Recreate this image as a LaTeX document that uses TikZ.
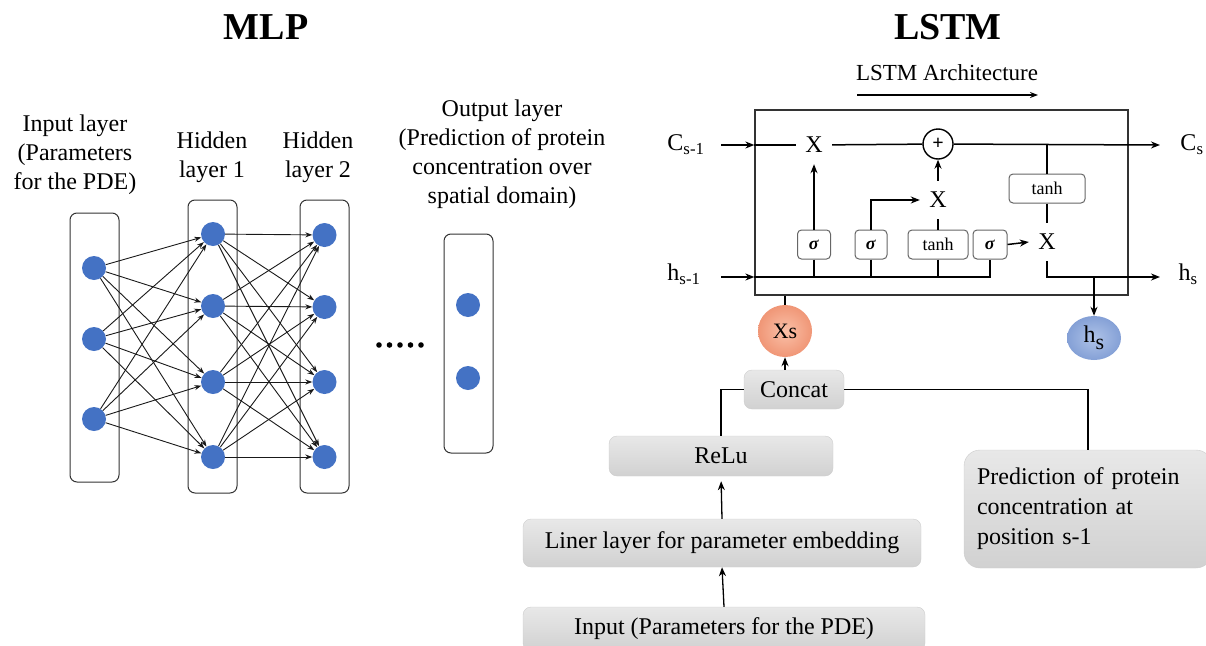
\documentclass[tikz,border=0pt]{standalone}
\usepackage{fontspec}
\setmainfont{Liberation Serif}
\usetikzlibrary{arrows.meta,shapes.geometric}
\definecolor{nblue}{RGB}{68,114,196}
\definecolor{xsin}{RGB}{250,192,168}
\definecolor{xsout}{RGB}{240,150,118}
\definecolor{hsin}{RGB}{175,195,232}
\definecolor{hsout}{RGB}{132,160,214}
\begin{document}
\begin{tikzpicture}[x=1pt,y=-1pt,
  neuron/.style={circle, fill=nblue, minimum size=24pt, inner sep=0pt},
  layerbox/.style={draw=black!80, rounded corners=7pt, line width=1pt, minimum width=49pt, inner sep=0pt},
  conn/.style={-{Stealth[length=7pt,width=5pt]}, line width=0.9pt, draw=black!90},
  txt/.style={font=\fontsize{24}{29}\selectfont, align=center, inner sep=0pt},
  title/.style={font=\fontsize{38}{40}\selectfont\bfseries, inner sep=0pt},
  gate/.style={draw=black!60, rounded corners=4pt, fill=white, font=\fontsize{18}{20}\selectfont, minimum height=29pt, inner sep=0pt, line width=1pt},
  xop/.style={font=\fontsize{24}{24}\selectfont, minimum width=36pt, minimum height=38pt, inner sep=0pt},
  lstm/.style={line width=1.5pt},
  arr/.style={-{Stealth[length=9pt,width=7pt]}, line width=1.5pt},
  graybox/.style={rounded corners=8pt, top color=gray!18, bottom color=gray!36, draw=gray!40, font=\fontsize{24}{30}\selectfont, inner sep=0pt}
]
\useasboundingbox (0,0) rectangle (1206,645);

% ---------------- titles ----------------
\node[title] (tmlp) at (266,27) {MLP};
\node[title] (tlstm) at (948,27) {LSTM};

% ---------------- MLP ----------------
\node[txt] (lin) at (75,155) {Input layer\\(Parameters\\for the PDE)};
\node[txt] (lh1) at (212,157) {Hidden\\layer 1};
\node[txt] (lh2) at (318,157) {Hidden\\layer 2};
\node[txt] (lout) at (502,154) {Output layer\\(Prediction of protein\\concentration over\\spatial domain)};

\node[layerbox, minimum height=269pt] (bin) at (94.5,347.5) {};
\node[layerbox, minimum height=293pt] (bh1) at (212.5,346.5) {};
\node[layerbox, minimum height=293pt] (bh2) at (324.5,346.5) {};
\node[layerbox, minimum height=219pt] (bout) at (468.5,343.5) {};

\node[neuron] (i1) at (94,268) {};
\node[neuron] (i2) at (94,339) {};
\node[neuron] (i3) at (94,419) {};
\node[neuron] (a1) at (213,234) {};
\node[neuron] (a2) at (213,306) {};
\node[neuron] (a3) at (213,382) {};
\node[neuron] (a4) at (213,457) {};
\node[neuron] (b1) at (324.5,235) {};
\node[neuron] (b2) at (324.5,307) {};
\node[neuron] (b3) at (324.5,382) {};
\node[neuron] (b4) at (324.5,457) {};
\node[neuron] (o1) at (468,305) {};
\node[neuron] (o2) at (468,378) {};

\foreach \s in {i1,i2,i3} \foreach \t in {a1,a2,a3,a4} \draw[conn] (\s) -- (\t);
\foreach \s in {a1,a2,a3,a4} \foreach \t in {b1,b2,b3,b4} \draw[conn] (\s) -- (\t);

\foreach \i in {0,...,4} \fill (379+\i*10.5,345) circle (2.8);

% ---------------- LSTM cell ----------------
\node[font=\fontsize{23}{24}\selectfont, inner sep=0pt] (arch) at (947,73) {LSTM Architecture};
\coordinate (ar1) at (857,95);
\coordinate (ar2) at (1038,95);
\draw[-{Stealth[length=8pt,width=6pt]}, line width=1.3pt] (ar1) -- (ar2);

\node[draw=black!80, line width=1.3pt, minimum width=373pt, minimum height=185pt, inner sep=0pt] (cell) at (941.5,202.5) {};

\node[font=\fontsize{24}{24}\selectfont, inner sep=0pt] (cin) at (686,145) {C\textsubscript{s-1}};
\node[font=\fontsize{24}{24}\selectfont, inner sep=0pt] (hin) at (684,274) {h\textsubscript{s-1}};
\node[font=\fontsize{24}{24}\selectfont, inner sep=0pt] (cout) at (1192,145) {C\textsubscript{s}};
\node[font=\fontsize{24}{24}\selectfont, inner sep=0pt] (hout) at (1188,274) {h\textsubscript{s}};

\coordinate (cst) at (721,145);
\coordinate (hst) at (721,277);
\coordinate (cen) at (1160,145);
\coordinate (hen) at (1160,277);

\node[xop] (x1) at (814,145) {X};
\node[draw, circle, minimum size=30pt, inner sep=0pt, line width=1.4pt, font=\fontsize{20}{20}\selectfont\bfseries] (plus) at (938,144) {+};
\node[xop] (x2) at (938,200) {X};
\node[xop] (x3) at (1047,242) {X};

\node[gate, minimum width=33pt] (s1) at (814,244.5) {\textbf{\textit{σ}}};
\node[gate, minimum width=32pt] (s2) at (871,244.5) {\textbf{\textit{σ}}};
\node[gate, minimum width=60pt] (t1) at (938,244.5) {tanh};
\node[gate, minimum width=34pt] (s3) at (990,244.5) {\textbf{\textit{σ}}};
\node[gate, minimum width=76pt] (t2) at (1047,188.5) {tanh};

% cell state line
\draw[arr] (cst) -- (cell.west |- cst);
\draw[lstm] (cell.west |- cst) -- (x1);
\draw[lstm] (x1) -- (plus);
\draw[arr] (plus) -- (cen);
\draw[lstm] (t2.north |- plus) -- (t2.north);
\draw[lstm] (t2.south) -- (x3.north);

% hidden line
\draw[arr] (hst) -- (cell.west |- hst);
\draw[lstm] (cell.west |- hst) -- (s3.south |- hst) -- (s3.south);
\draw[lstm] (s1.south) -- (s1.south |- hst);
\draw[lstm] (s2.south) -- (s2.south |- hst);
\draw[lstm] (t1.south) -- (t1.south |- hst);

% gates
\draw[arr] (s1.north) -- (x1.south);
\draw[arr] (s2.north) |- (x2.west);
\draw[lstm] (t1.north) -- (x2.south);
\draw[arr] (x2.north) -- (plus.south);
\draw[arr] (s3.east) -- (x3.west);
\draw[arr] (x3.south) |- (hen);

% Xs and hs
\node[ellipse, minimum width=54pt, minimum height=52pt, inner sep=0pt, inner color=xsin, outer color=xsout, font=\fontsize{22}{22}\selectfont] (xs) at (785,331) {Xs};
\node[ellipse, minimum width=54pt, minimum height=44pt, inner sep=0pt, inner color=hsin, outer color=hsout, font=\fontsize{24}{24}\selectfont] (hs) at (1094,338) {h\raisebox{-0.28em}{\fontsize{22}{22}\selectfont s}};
\coordinate (hj) at (1094,277);
\draw[arr] (hj) -- (hs.north);
\draw[lstm] (xs.north) -- (xs.north |- cell.south);

% ---------------- bottom stack ----------------
\node[graybox, minimum width=100pt, minimum height=39pt] (concat) at (794,389.5) {Concat};
\node[graybox, minimum width=224pt, minimum height=40pt] (relu) at (721,456) {ReLu};
\node[graybox, minimum width=398pt, minimum height=48pt] (liner) at (722,543) {Liner layer for parameter embedding};
\node[graybox, minimum width=402pt, minimum height=44pt] (input) at (724,629) {Input (Parameters for the PDE)};
\node[graybox, rounded corners=16pt, text width=222pt, inner xsep=13pt, minimum height=118pt, align=left] (pred) at (1088,509) {Prediction of protein\\concentration at\\position s-1};

\draw[arr] (concat.north -| xs.south) -- (xs.south);
\draw[lstm] (concat.west) -| (relu.north);
\draw[lstm] (concat.east) -| (pred.north);
\draw[arr, line width=1.3pt, shorten >=5pt] (liner.north) -- (relu.south);
\draw[arr, line width=1.3pt] (input.north) -- (liner.south);
\end{tikzpicture}
\end{document}
